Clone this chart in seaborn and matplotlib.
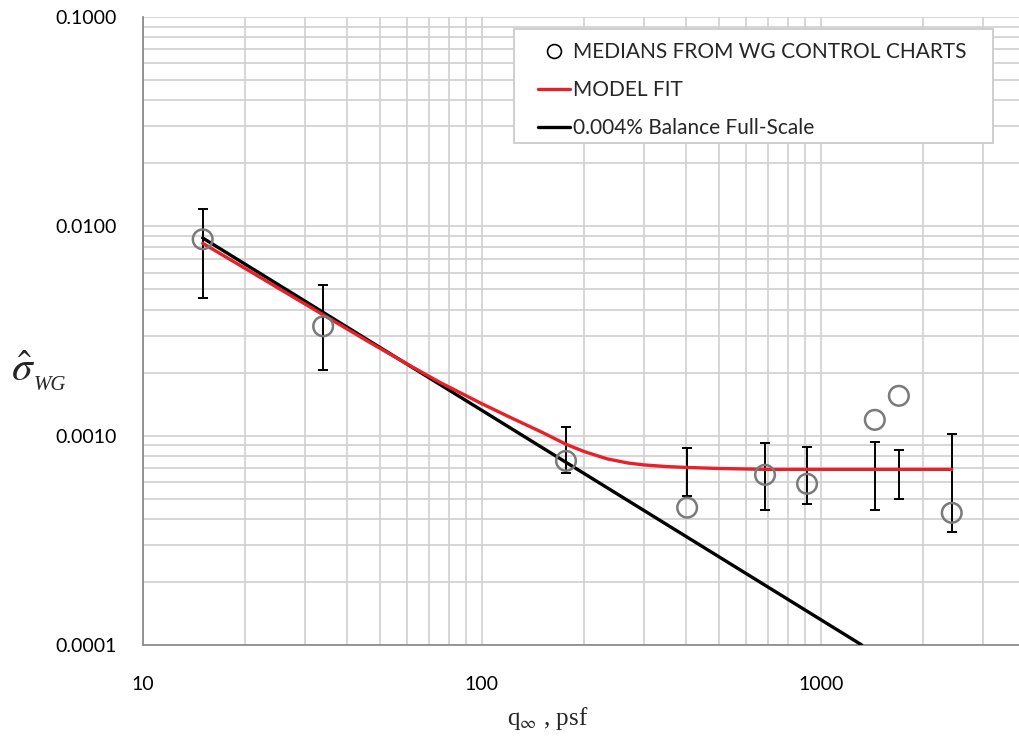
import numpy as np
import pandas as pd
import matplotlib
matplotlib.use("Agg")
import matplotlib.pyplot as plt
import matplotlib.ticker as mticker
from matplotlib.lines import Line2D
from matplotlib.patches import Rectangle
import seaborn as sns

# ---- data ----
med_x = [15, 34, 177, 403, 684, 910, 1442, 1698, 2432]
med_y = [0.00867, 0.00333, 0.000758, 0.000453, 0.00065, 0.000589, 0.00119, 0.00155, 0.000428]

err_x = [15, 34, 177, 403, 684, 910, 1442, 1698, 2432]
err_hi = [0.0121, 0.00523, 0.00110, 0.000877, 0.000927, 0.00088, 0.00093, 0.000857, 0.00102]
err_lo = [0.00457, 0.00205, 0.00066, 0.000516, 0.000443, 0.000473, 0.00044, 0.00050, 0.000347]

fit_x = [15, 20, 25, 34, 47, 62, 75, 100, 119, 150, 177, 200, 234, 270, 300, 350,
         400, 500, 700, 1000, 2432]
fit_y = [0.0083, 0.0063, 0.00508, 0.00378, 0.00277, 0.00214, 0.00180, 0.00142, 0.00124,
         0.00104, 0.00091, 0.00084, 0.000775, 0.00074, 0.000725, 0.000712,
         0.000705, 0.000697, 0.00069, 0.00069, 0.00069]

bal_x = [15, 1320]
bal_y = [0.0088, 0.0001]

x_ticks = [10, 100, 1000]
x_tick_labels = ["10", "100", "1000"]
y_ticks = [0.0001, 0.001, 0.01, 0.1]
y_tick_labels = ["0.0001", "0.0010", "0.0100", "0.1000"]

legend_labels = ["MEDIANS FROM WG CONTROL CHARTS", "MODEL FIT", "0.004% Balance Full-Scale"]

# ---- styling ----
sns.set_theme(style="white")
plt.rcParams["font.family"] = ["Lato", "DejaVu Sans"]
plt.rcParams["mathtext.fontset"] = "stix"

fig = plt.figure(figsize=(10.19, 7.44), dpi=100)
L, R, T, B = 143, 1025, 17, 645
W, H = 1019, 744
ax = fig.add_axes([L / W, 1 - B / H, (R - L) / W, (B - T) / H])

ax.set_xscale("log")
ax.set_yscale("log")
ax.set_xlim(10, 4000)
ax.set_ylim(0.0001, 0.1)

grid_c = "#d0d0d0"
ax.xaxis.set_minor_locator(mticker.LogLocator(base=10, subs=np.arange(2, 10)))
ax.yaxis.set_minor_locator(mticker.LogLocator(base=10, subs=np.arange(2, 10)))
ax.grid(True, which="both", color=grid_c, linewidth=1.2)
ax.set_axisbelow(True)

for s in ["top", "right"]:
    ax.spines[s].set_visible(False)
for s in ["left", "bottom"]:
    ax.spines[s].set_color("#8c8c8c")
    ax.spines[s].set_linewidth(1.3)

df_med = pd.DataFrame({"q": med_x, "s": med_y})
df_fit = pd.DataFrame({"q": fit_x, "s": fit_y})
df_bal = pd.DataFrame({"q": bal_x, "s": bal_y})

# error bars (separate series)
lo = np.array(err_lo)
hi = np.array(err_hi)
mid = np.sqrt(lo * hi)
ax.errorbar(err_x, mid, yerr=[mid - lo, hi - mid], fmt="none", ecolor="black",
            elinewidth=1.4, capsize=3.8, capthick=1.4, zorder=3)

sns.lineplot(data=df_bal, x="q", y="s", color="black", linewidth=2.4, ax=ax,
             sort=False, estimator=None, label=legend_labels[2], zorder=4)
sns.lineplot(data=df_fit, x="q", y="s", color="#e8202a", linewidth=2.4, ax=ax,
             sort=False, estimator=None, label=legend_labels[1], zorder=5,
             solid_joinstyle="round")
sns.scatterplot(data=df_med, x="q", y="s", marker="o", s=200, facecolor="none",
                edgecolor="#7a7a7a", linewidth=1.8, ax=ax, label=legend_labels[0], zorder=6)

ax.set_xlabel("")
ax.set_ylabel("")
ax.set_xticks(x_ticks)
ax.set_xticklabels(x_tick_labels)
ax.set_yticks(y_ticks)
ax.set_yticklabels(y_tick_labels)
ax.tick_params(axis="x", which="both", length=0, pad=22, labelsize=14, labelcolor="black")
ax.tick_params(axis="y", which="both", length=0, pad=19, labelsize=14, labelcolor="black")

# legend frame (drawn separately so its padding matches)
box = Rectangle((514 / W, 1 - 143 / H), (993 - 514) / W, (143 - 29) / H,
                transform=fig.transFigure, facecolor="white", edgecolor="#cccccc",
                linewidth=1.3, zorder=8, clip_on=False)
ax.add_patch(box)

handles, labels = ax.get_legend_handles_labels()
h2 = [handles[labels.index(l)] for l in legend_labels]
h2[0] = Line2D([], [], marker="o", linestyle="none", markerfacecolor="none",
               markeredgecolor="black", markersize=10, markeredgewidth=1.2)
leg = ax.legend(h2, legend_labels, loc="upper left",
                bbox_to_anchor=(538 / W, 1 - 42 / H), bbox_transform=fig.transFigure,
                borderaxespad=0, borderpad=0, fontsize=15, frameon=False,
                labelspacing=0.86, handlelength=1.55, handletextpad=0.12)
leg.set_zorder(10)

# axis titles
fig.text(548 / W, 1 - 718 / H, r"q$_{\infty}$ , psf", ha="center", va="center",
         fontsize=18, family="Liberation Serif")
fig.text(11 / W, 1 - 381 / H, r"$\hat{\sigma}$", ha="left", va="baseline", fontsize=30)
fig.text(34 / W, 1 - 390 / H, "WG", ha="left", va="baseline", fontsize=15,
         family="Liberation Serif", style="italic")

fig.savefig("out.png", dpi=100)
